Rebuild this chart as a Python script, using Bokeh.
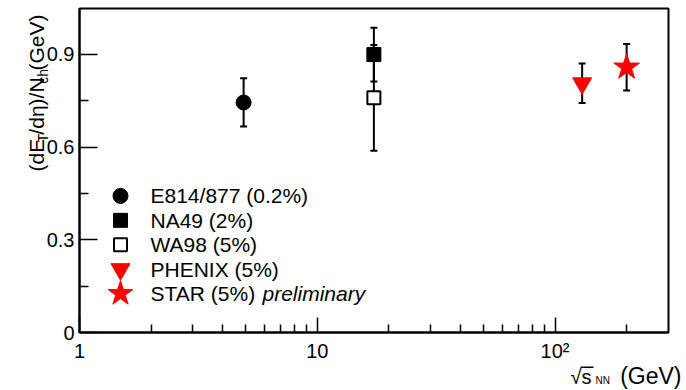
import numpy as np
from bokeh.plotting import figure
from bokeh.layouts import column, row
from bokeh.models import (ColumnDataSource, Whisker, TeeHead, FixedTicker, Label,
                          Range1d, LinearScale, BoxAnnotation)
from bokeh.embed import file_html
from bokeh.resources import INLINE

# ---------------- data ----------------
experiments = ["E814/877", "NA49", "WA98", "PHENIX", "STAR"]
legend_labels = ["E814/877 (0.2%)", "NA49 (2%)", "WA98 (5%)", "PHENIX (5%)", "STAR (5%)"]
sqrt_s_nn = [4.9, 17.3, 17.3, 130.0, 200.0]
et_per_nch = [0.744, 0.899, 0.759, 0.806, 0.858]
et_err = [0.078, 0.087, 0.171, 0.064, 0.075]
y_ticks = [0, 0.3, 0.6, 0.9]
y_minor_ticks = [0.15, 0.45, 0.75]
x_ticks = [1, 10, 100]
x_minor_ticks = [2, 3, 4, 5, 6, 7, 8, 9, 20, 30, 40, 50, 60, 70, 80, 90, 200]
x_tick_labels = {1: "1", 10: "10", 100: "10\u00b2"}
y_tick_labels = {0: "0", 0.3: "0.3", 0.6: "0.6", 0.9: "0.9"}

# ---------------- styles ----------------
markers = ["circle", "square", "square", "inverted_triangle", "star"]
fills = ["black", "black", "white", "red", "red"]
lines = ["black", "black", "black", "red", "red"]
sizes = [15, 14, 13, 19, 27]
leg_sizes = [15, 14, 13, 19, 26]
lwidths = [1, 1, 2, 1, 1]
FONT = "Liberation Sans"

# ---------------- layout geometry (canvas pixels) ----------------
W, H = 686, 390
LS = 52                  # left strip width (y title)
OV = 9                   # overlap of the main figure over the strip
MX = LS - OV             # canvas x where the main figure starts
MH = 364                 # main figure height
BS = H - MH              # bottom strip (x title)
FL, FR, FT, FB = 79, 668, 8, 333   # frame edges on the canvas
FW, FH = FR - FL, FB - FT


def strip(w, h, **kw):
    f = figure(width=w, height=h, x_range=Range1d(0, w), y_range=Range1d(0, h),
               min_border=0, toolbar_location=None, output_backend="svg",
               x_axis_location=None, y_axis_location=None, **kw)
    f.outline_line_color = None
    f.xgrid.visible = False
    f.ygrid.visible = False
    f.background_fill_color = "white"
    f.border_fill_color = "white"
    return f


left = strip(LS, MH, margin=(0, -OV, 0, 0))
bottom = strip(W, BS)

p = figure(width=W - MX, height=MH, x_axis_type="log", x_range=Range1d(1, 300),
           y_range=Range1d(0, 1.048), output_backend="svg", toolbar_location=None,
           min_border_left=FL - MX, min_border_right=W - FR, min_border_top=FT,
           min_border_bottom=MH - FB)
p.extra_x_ranges = {"px": Range1d(0, FW)}
p.extra_y_ranges = {"px": Range1d(0, FH)}
p.extra_x_scales = {"px": LinearScale()}
p.extra_y_scales = {"px": LinearScale()}

p.xgrid.visible = False
p.ygrid.visible = False
p.outline_line_color = "black"
p.outline_line_width = 2
p.background_fill_color = "white"
p.border_fill_alpha = 0

xa = p.xaxis[0]
xa.ticker = FixedTicker(ticks=x_ticks, minor_ticks=x_minor_ticks)
xa.major_label_overrides = x_tick_labels
xa.major_tick_in = 15
xa.major_tick_out = 0
xa.minor_tick_in = 8
xa.minor_tick_out = 0
xa.major_label_standoff = 7

ya = p.yaxis[0]
ya.ticker = FixedTicker(ticks=y_ticks, minor_ticks=y_minor_ticks)
ya.major_label_overrides = y_tick_labels
ya.major_tick_in = 18
ya.major_tick_out = 0
ya.minor_tick_in = 9
ya.minor_tick_out = 0
ya.major_label_standoff = 5

for ax in (xa, ya):
    ax.axis_line_width = 2
    ax.axis_line_color = "black"
    ax.major_tick_line_width = 1.5
    ax.minor_tick_line_width = 1.5
    ax.major_tick_line_color = "black"
    ax.minor_tick_line_color = "black"
    ax.major_label_text_font = FONT
    ax.major_label_text_font_size = "20px"
    ax.major_label_text_color = "black"

# ---------------- data points ----------------
x = np.array(sqrt_s_nn)
y = np.array(et_per_nch)
e = np.array(et_err)
src = ColumnDataSource(dict(x=x, y=y, upper=y + e, lower=y - e, marker=markers,
                            fill=fills, line=lines, size=sizes, lw=lwidths, name=experiments))

wh = Whisker(source=src, base="x", upper="upper", lower="lower", dimension="height",
             line_color="black", line_width=2, level="underlay",
             upper_head=TeeHead(size=7, line_width=2, line_color="black"),
             lower_head=TeeHead(size=7, line_width=2, line_color="black"))
p.add_layout(wh)

p.scatter(x="x", y="y", marker="marker", size="size", fill_color="fill",
          line_color="line", line_width="lw", source=src)

# ---------------- legend (frame-pixel space) ----------------
row_c = [196, 220.5, 245, 269.5, 294]   # canvas row centres
leg_src = ColumnDataSource(dict(x=[120 - FL] * 5, y=[FB - r for r in row_c], marker=markers,
                                fill=fills, line=lines, size=leg_sizes, lw=lwidths))
p.scatter(x="x", y="y", marker="marker", size="size", fill_color="fill", line_color="line",
          line_width="lw", source=leg_src, x_range_name="px", y_range_name="px")

for lab, r in zip(legend_labels, row_c):
    p.add_layout(Label(x=150 - FL, y=FB - r, text=lab, x_range_name="px", y_range_name="px",
                       text_font=FONT, text_font_size="21px", text_color="black",
                       text_baseline="middle", text_align="left"))
p.add_layout(Label(x=262 - FL, y=FB - row_c[4], text="preliminary", x_range_name="px",
                   y_range_name="px", text_font=FONT, text_font_size="21px", text_font_style="italic",
                   text_color="black", text_baseline="middle", text_align="left"))


# ---------------- y title (left strip), rotated pieces ----------------
def ylab(text, cx, cy, size):
    left.add_layout(Label(x=cx, y=MH - cy, text=text, angle=np.pi / 2, text_font=FONT,
                          text_font_size=f"{size}px", text_color="black",
                          text_baseline="middle", text_align="left"))


ylab("(dE", 35.5, 183, 21)
ylab("T", 42.5, 150.3, 14)
ylab("/d\u03b7)/N", 35.5, 141.7, 21)
ylab("ch", 42.5, 84.5, 14)
ylab(" (GeV)", 35.5, 69.7, 21)


# ---------------- x title (bottom strip) ----------------
def xlab(text, cx, cy, size, align="left"):
    bottom.add_layout(Label(x=cx, y=H - cy, text=text, text_font=FONT,
                            text_font_size=f"{size}px", text_color="black",
                            text_baseline="middle", text_align=align))


xlab("\u221as", 570, 376, 20)
xlab("NN", 595, 379.5, 10)
xlab("(GeV)", 681, 375.5, 23, "right")
bottom.add_layout(BoxAnnotation(left=580, right=593, top=H - 366, bottom=H - 367.5,
                                fill_color="black", fill_alpha=1, line_alpha=0))

layout = column(row(left, p), bottom)
open("out.html", "w").write(file_html(layout, INLINE))
